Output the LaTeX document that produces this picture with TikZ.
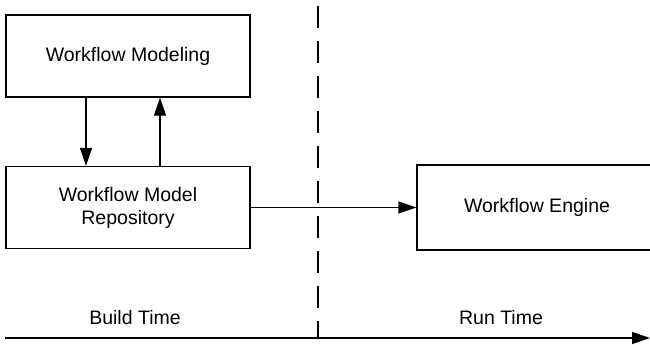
\documentclass[tikz,border=0pt]{standalone}
\usepackage{fontspec}
\setmainfont{Liberation Sans}
\usetikzlibrary{arrows.meta}

\begin{document}
\begin{tikzpicture}[x=1pt,y=-1pt,line width=1.2pt,
    txt/.style={font=\fontsize{19.5}{23}\selectfont,align=center},
    box/.style={txt,draw,inner sep=0pt,minimum width=244pt,minimum height=82pt},
    >={Triangle[length=18pt,width=12pt]}]
    \useasboundingbox (0,0) rectangle (650,345);
    \node[box] (model) at (128,56) {Workflow Modeling};
    \node[box] (repo) at (128,207.5) {Workflow Model\\Repository};
    \node[box,minimum width=240pt,minimum height=85pt] (engine) at (537,207.5) {Workflow Engine};
    \draw[->] ([xshift=-42pt]model.south) -- ([xshift=-42pt]repo.north);
    \draw[->] ([xshift=32pt]repo.north) -- ([xshift=32pt]model.south);
    \draw[->] (repo) -- (engine);
    % build / run time divider
    \coordinate (divtop) at (318,6);
    \coordinate (divbot) at (318,338);
    \draw[dash pattern=on 22pt off 13pt] (divtop) -- (divbot);
    \coordinate (tstart) at (5,338);
    \coordinate (tend) at (650,338);
    \draw[->] (tstart) -- (tend);
    \node[txt] (build) at (135,318) {Build Time};
    \node[txt] (run) at (501,318) {Run Time};
\end{tikzpicture}
\end{document}
